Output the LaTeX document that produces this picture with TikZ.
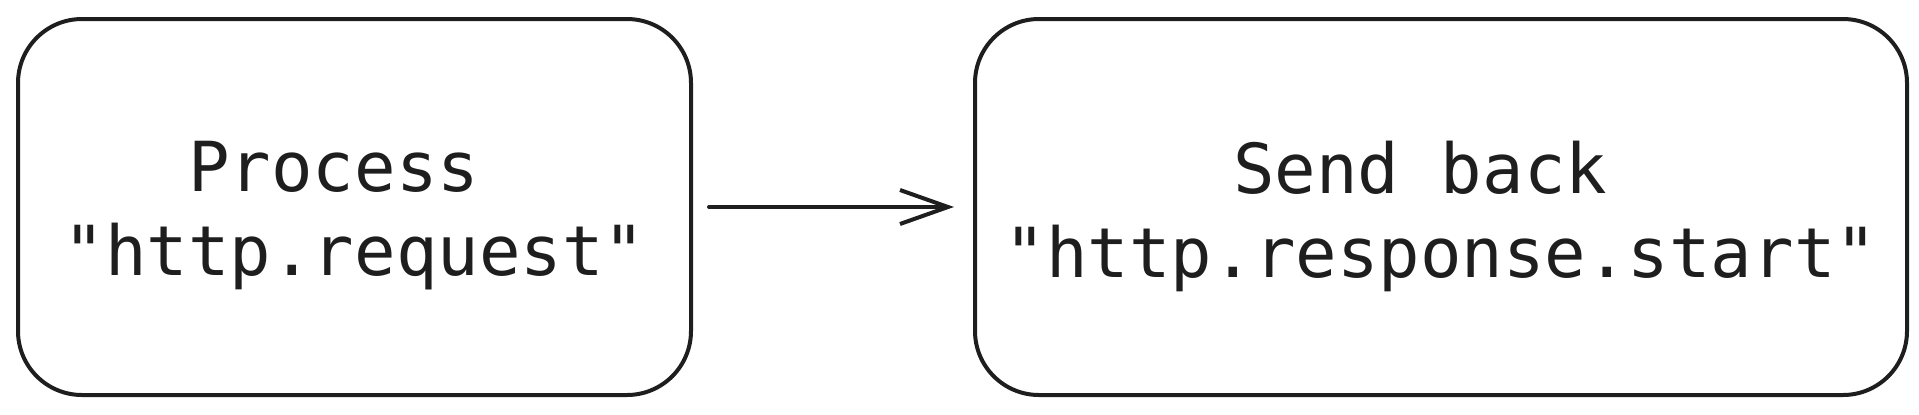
\documentclass[tikz,border=0pt]{standalone}
\usepackage{fontspec}
\usepackage{tikz}
\usetikzlibrary{positioning, arrows.meta}
\newfontfamily\codefont{DejaVu Sans Mono}
\definecolor{cInk}{RGB}{30,30,30}

\begin{document}
\begin{tikzpicture}[x=0.5pt, y=-0.5pt, node distance=140pt, line width=2pt,
    box/.style={draw=cInk, rounded corners=32pt, minimum height=188pt},
    boxtext/.style={yshift=-4.5pt, align=center, text=cInk,
                    font=\codefont\fontsize{34.5}{42}\selectfont}]
    \useasboundingbox (0,0) rectangle (1919,414);

    \node[box, minimum width=336.5pt,
          label={[boxtext]center:{Process\hphantom{x}\\"http.request"}}] (proc) at (354.5,207) {};
    \node[box, minimum width=466pt,
          label={[boxtext]center:{Send back\hphantom{x}\\"http.response.start"}}] (send) [right=of proc] {};

    \path[-{Straight Barb[length=24pt, width=17pt]}, draw=cInk, line cap=round]
    (proc) edge [shorten <=8pt, shorten >=9.5pt] (send);
\end{tikzpicture}
\end{document}
